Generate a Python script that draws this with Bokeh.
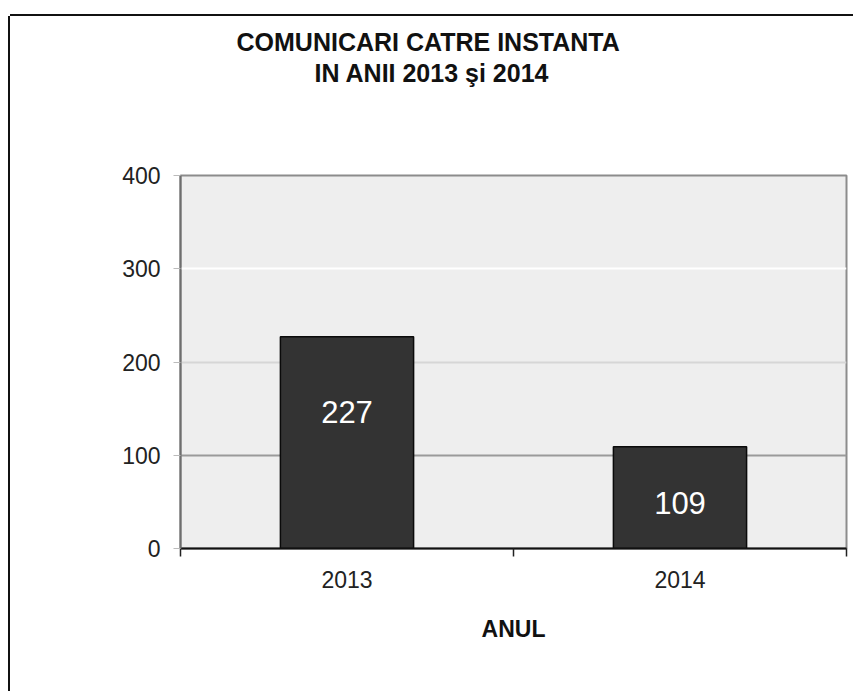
from bokeh.plotting import figure
from bokeh.models import Range1d, FixedTicker, Grid, Title, ColumnDataSource
from bokeh.embed import file_html
from bokeh.resources import INLINE
from bokeh.core.properties import value

# ---- data ----
years = ["2013", "2014"]
counts = [227, 109]
y_ticks = [0, 100, 200, 300, 400]
title_lines = ["COMUNICARI CATRE INSTANTA", "IN  ANII 2013 şi 2014"]
x_title = "ANUL"

# ---- style ----
FONT = "Liberation Sans"
label_shift = [-31, 5]  # pixel nudges of the in-bar value labels

pos = [i + 0.5 for i in range(len(years))]
src = ColumnDataSource(dict(
    x=pos,
    count=counts,
    mid=[c / 2 for c in counts],
    label=[str(c) for c in counts],
    shift=label_shift,
))

p = figure(width=843, height=675, output_backend="svg", toolbar_location=None,
           x_range=Range1d(0, len(years)), y_range=Range1d(y_ticks[0], y_ticks[-1]),
           min_border_left=170, min_border_right=7, min_border_top=159, min_border_bottom=143,
           background_fill_color="#eeeeee", border_fill_color="white",
           outline_line_color="#8c8c8c", outline_line_width=2)
p.title.text = ""
# outer chart frame: only its left and top edges are visible in the picture
p.styles = {"box-shadow": "-2px 0px 0px 0px #111111, 0px -2px 0px 0px #111111",
            "margin-left": "10px", "margin-top": "16px"}

p.xgrid.visible = False
p.ygrid.visible = False
for t, col in zip(y_ticks[1:4], ["#9a9a9a", "#d6d6d6", "#ffffff"]):
    g = Grid(dimension=1, ticker=FixedTicker(ticks=[t]), grid_line_color=col, grid_line_width=2)
    p.add_layout(g)

# titles (innermost first): spacer, second line, first line
tkw = dict(align="left", text_font=FONT, text_font_size="25px",
           text_font_style="bold", text_color="#111111")
p.add_layout(Title(text=" ", standoff=58, **tkw), "above")
p.add_layout(Title(text=title_lines[1], offset=134, standoff=1, **tkw), "above")
p.add_layout(Title(text=title_lines[0], offset=56, standoff=1, **tkw), "above")

# y axis
ya = p.yaxis[0]
ya.ticker = FixedTicker(ticks=y_ticks)
ya.major_tick_out = 7
ya.major_tick_in = 0
ya.minor_tick_out = 0
ya.minor_tick_in = 0
ya.major_tick_line_color = "#bbbbbb"
ya.axis_line_color = "#6e6e6e"
ya.axis_line_width = 2
ya.major_label_text_font = FONT
ya.major_label_text_font_size = "23px"
ya.major_label_text_color = "#222222"
ya.major_label_standoff = 13

# x axis
xa = p.xaxis[0]
xa.ticker = FixedTicker(ticks=pos, minor_ticks=list(range(len(years) + 1)))
xa.major_label_overrides = {x: y for x, y in zip(pos, years)}
xa.major_tick_out = 0
xa.major_tick_in = 0
xa.minor_tick_out = 8
xa.minor_tick_in = 0
xa.minor_tick_line_color = "#222222"
xa.minor_tick_line_width = 1.5
xa.axis_line_color = "#111111"
xa.axis_line_width = 2
xa.major_label_text_font = FONT
xa.major_label_text_font_size = "23px"
xa.major_label_text_color = "#222222"
xa.major_label_standoff = 14
xa.axis_label = x_title
xa.axis_label_text_font = FONT
xa.axis_label_text_font_size = "23px"
xa.axis_label_text_font_style = "bold"
xa.axis_label_text_color = "#111111"
xa.axis_label_standoff = 25

# bars
p.vbar(x="x", top="count", width=0.4, source=src,
       fill_color="#333333", line_color="#0a0a0a", line_width=1.5)
p.text(x="x", y="mid", text="label", source=src, y_offset="shift",
       text_color="white", text_font=value(FONT), text_font_size="31px",
       text_align="center", text_baseline="middle")

open("out.html", "w").write(file_html(p, INLINE))
